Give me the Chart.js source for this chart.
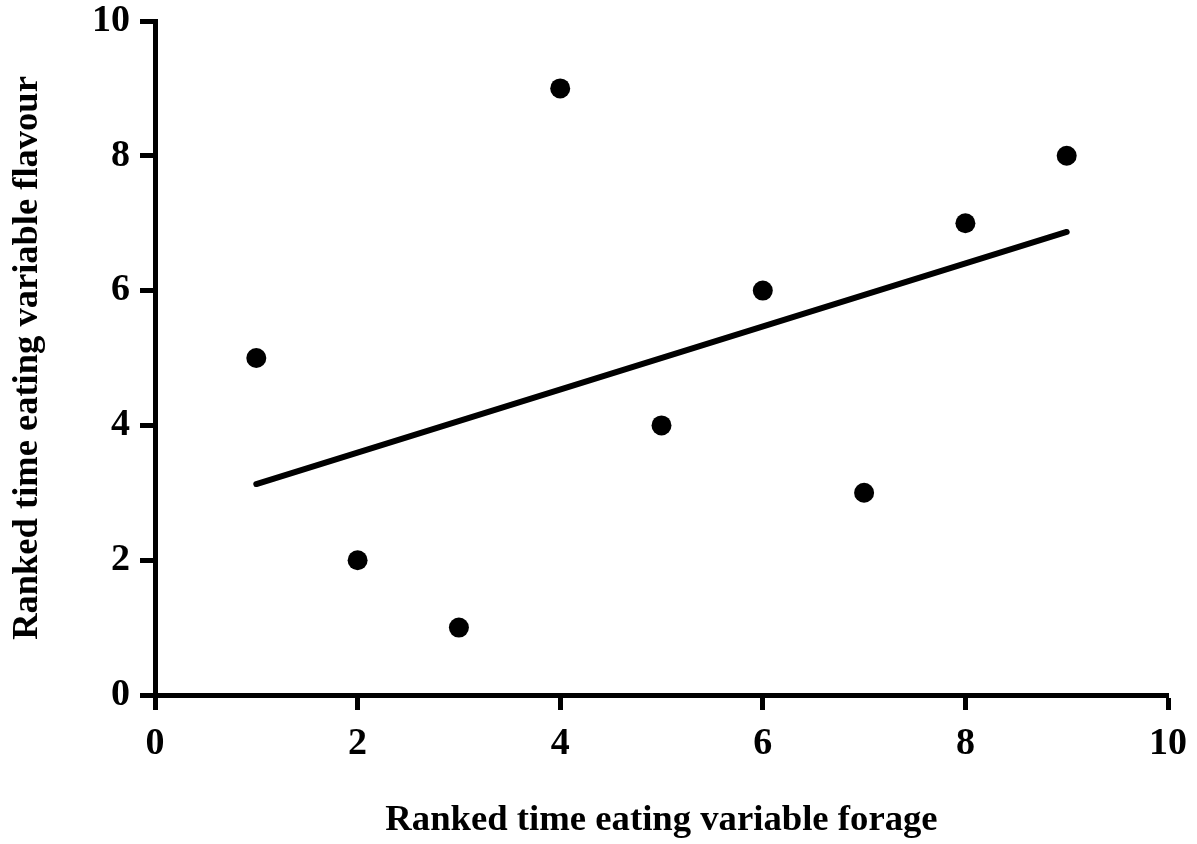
<!DOCTYPE html>
<html>
<head>
<meta charset="utf-8">
<script src="https://cdn.jsdelivr.net/npm/chart.js@4/dist/chart.umd.min.js"></script>
<style>
html,body{margin:0;padding:0;background:#fff;}
#wrap{width:1197px;height:844px;position:relative;}
</style>
</head>
<body>
<div id="wrap"><canvas id="c" width="1197" height="844"></canvas></div>
<script>
const forageRank = [1, 2, 3, 4, 5, 6, 7, 8, 9];
const flavourRank = [5, 2, 1, 9, 4, 6, 3, 7, 8];
const fitX = [1, 9];
const fitY = [3.13, 6.87];
const xTicks = [0, 2, 4, 6, 8, 10];
const yTicks = [0, 2, 4, 6, 8, 10];
const xTitle = 'Ranked time eating variable forage';
const yTitle = 'Ranked time eating variable flavour';

const FONT = "'Liberation Serif', 'DejaVu Serif', serif";

const scatterData = forageRank.map((x, i) => ({x: x, y: flavourRank[i]}));
const lineData = fitX.map((x, i) => ({x: x, y: fitY[i]}));

new Chart(document.getElementById('c'), {
  type: 'scatter',
  data: {
    datasets: [
      {
        data: lineData,
        showLine: true,
        borderColor: '#000',
        borderWidth: 6,
        borderCapStyle: 'round',
        pointRadius: 0,
        pointHoverRadius: 0,
        fill: false
      },
      {
        data: scatterData,
        backgroundColor: '#000',
        borderColor: '#000',
        pointRadius: 10,
        pointHoverRadius: 10,
        borderWidth: 0
      }
    ]
  },
  options: {
    responsive: false,
    animation: false,
    events: [],
    layout: {padding: {top: 21, right: 29, left: 0, bottom: 0}},
    plugins: {legend: {display: false}, tooltip: {enabled: false}},
    scales: {
      x: {
        type: 'linear',
        min: 0, max: 10,
        afterBuildTicks: (s) => { s.ticks = xTicks.map(v => ({value: v})); },
        afterFit: (s) => { s.height = 149; s.paddingLeft = 0; s.paddingRight = 0; },
        border: {display: true, color: '#000', width: 5},
        grid: {display: true, drawOnChartArea: false, drawTicks: true, tickLength: 15, tickWidth: 5, tickColor: '#000'},
        ticks: {color: '#000', padding: 11, font: {family: FONT, size: 38, weight: 'bold'}, maxRotation: 0},
        title: {display: true, text: xTitle, color: '#000', font: {family: FONT, size: 36.7, weight: 'bold'}, padding: {top: 0, bottom: 1}}
      },
      y: {
        type: 'linear',
        min: 0, max: 10,
        afterBuildTicks: (s) => { s.ticks = yTicks.map(v => ({value: v})); },
        afterFit: (s) => { s.width = 155; s.paddingTop = 0; s.paddingBottom = 0; },
        border: {display: true, color: '#000', width: 5},
        grid: {display: true, drawOnChartArea: false, drawTicks: true, tickLength: 15, tickWidth: 5, tickColor: '#000'},
        ticks: {color: '#000', padding: 10, font: {family: FONT, size: 38, weight: 'bold'}},
        title: {display: true, text: yTitle, color: '#000', font: {family: FONT, size: 36.5, weight: 'bold'}, padding: {top: 6, bottom: 0}}
      }
    }
  }
});
</script>
</body>
</html>
